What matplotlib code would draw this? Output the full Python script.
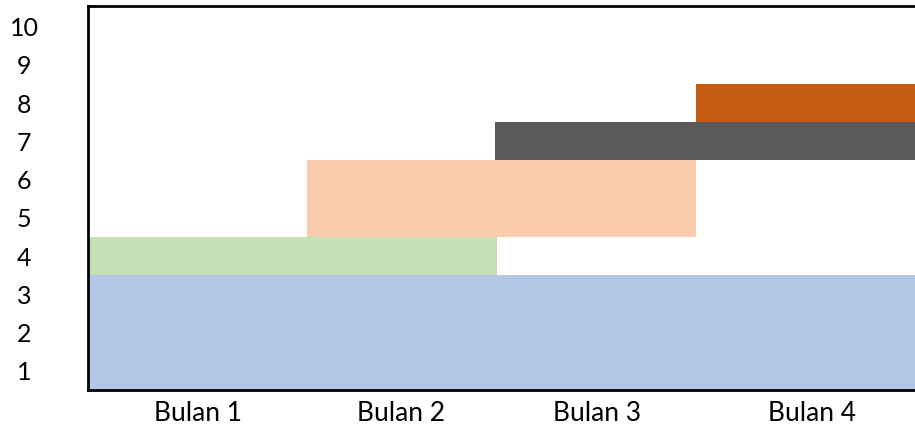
import matplotlib
matplotlib.use("Agg")
import matplotlib.pyplot as plt

# Task rows (y ranges) and their time spans in months
row_lo = [0.5, 3.5, 4.5, 6.5, 7.5]
row_hi = [3.5, 4.5, 6.5, 7.5, 8.5]
start = [0.0, 0.0, 1.06, 1.97, 2.94]
end = [4.0, 1.98, 2.94, 4.0, 4.0]
colors = ["#B4C7E7", "#C5E0B4", "#F8CBAD", "#595959", "#C55A11"]

month_pos = [0.53, 1.515, 2.46, 3.50]
month_labels = ["Bulan 1", "Bulan 2", "Bulan 3", "Bulan 4"]
row_ticks = list(range(1, 11))

plt.rcParams["font.family"] = ["Lato", "DejaVu Sans"]

fig = plt.figure(figsize=(9.15, 4.26), dpi=100)
ax = fig.add_axes([88 / 915, 36 / 426, 1 - 88 / 915, (390 - 5.5) / 426])

for lo, hi, s, e, c in zip(row_lo, row_hi, start, end, colors):
    ax.broken_barh([(s, e - s)], (lo, hi - lo), facecolors=c, edgecolor="none")

ax.set_xlim(0, 4)
ax.set_ylim(0.5, 10.55)

ax.set_xticks(month_pos)
ax.set_xticklabels(month_labels, fontsize=19, color="#000000")
ax.set_yticks(row_ticks)
ax.set_yticklabels([str(t) for t in row_ticks], fontsize=18, color="#000000", ha="center")

ax.tick_params(axis="x", length=0, pad=8)
ax.tick_params(axis="y", length=0, pad=46)

for side in ("left", "top", "bottom"):
    ax.spines[side].set_linewidth(2)
    ax.spines[side].set_color("#000000")
ax.spines["right"].set_visible(False)

fig.savefig("out.png", dpi=100)
